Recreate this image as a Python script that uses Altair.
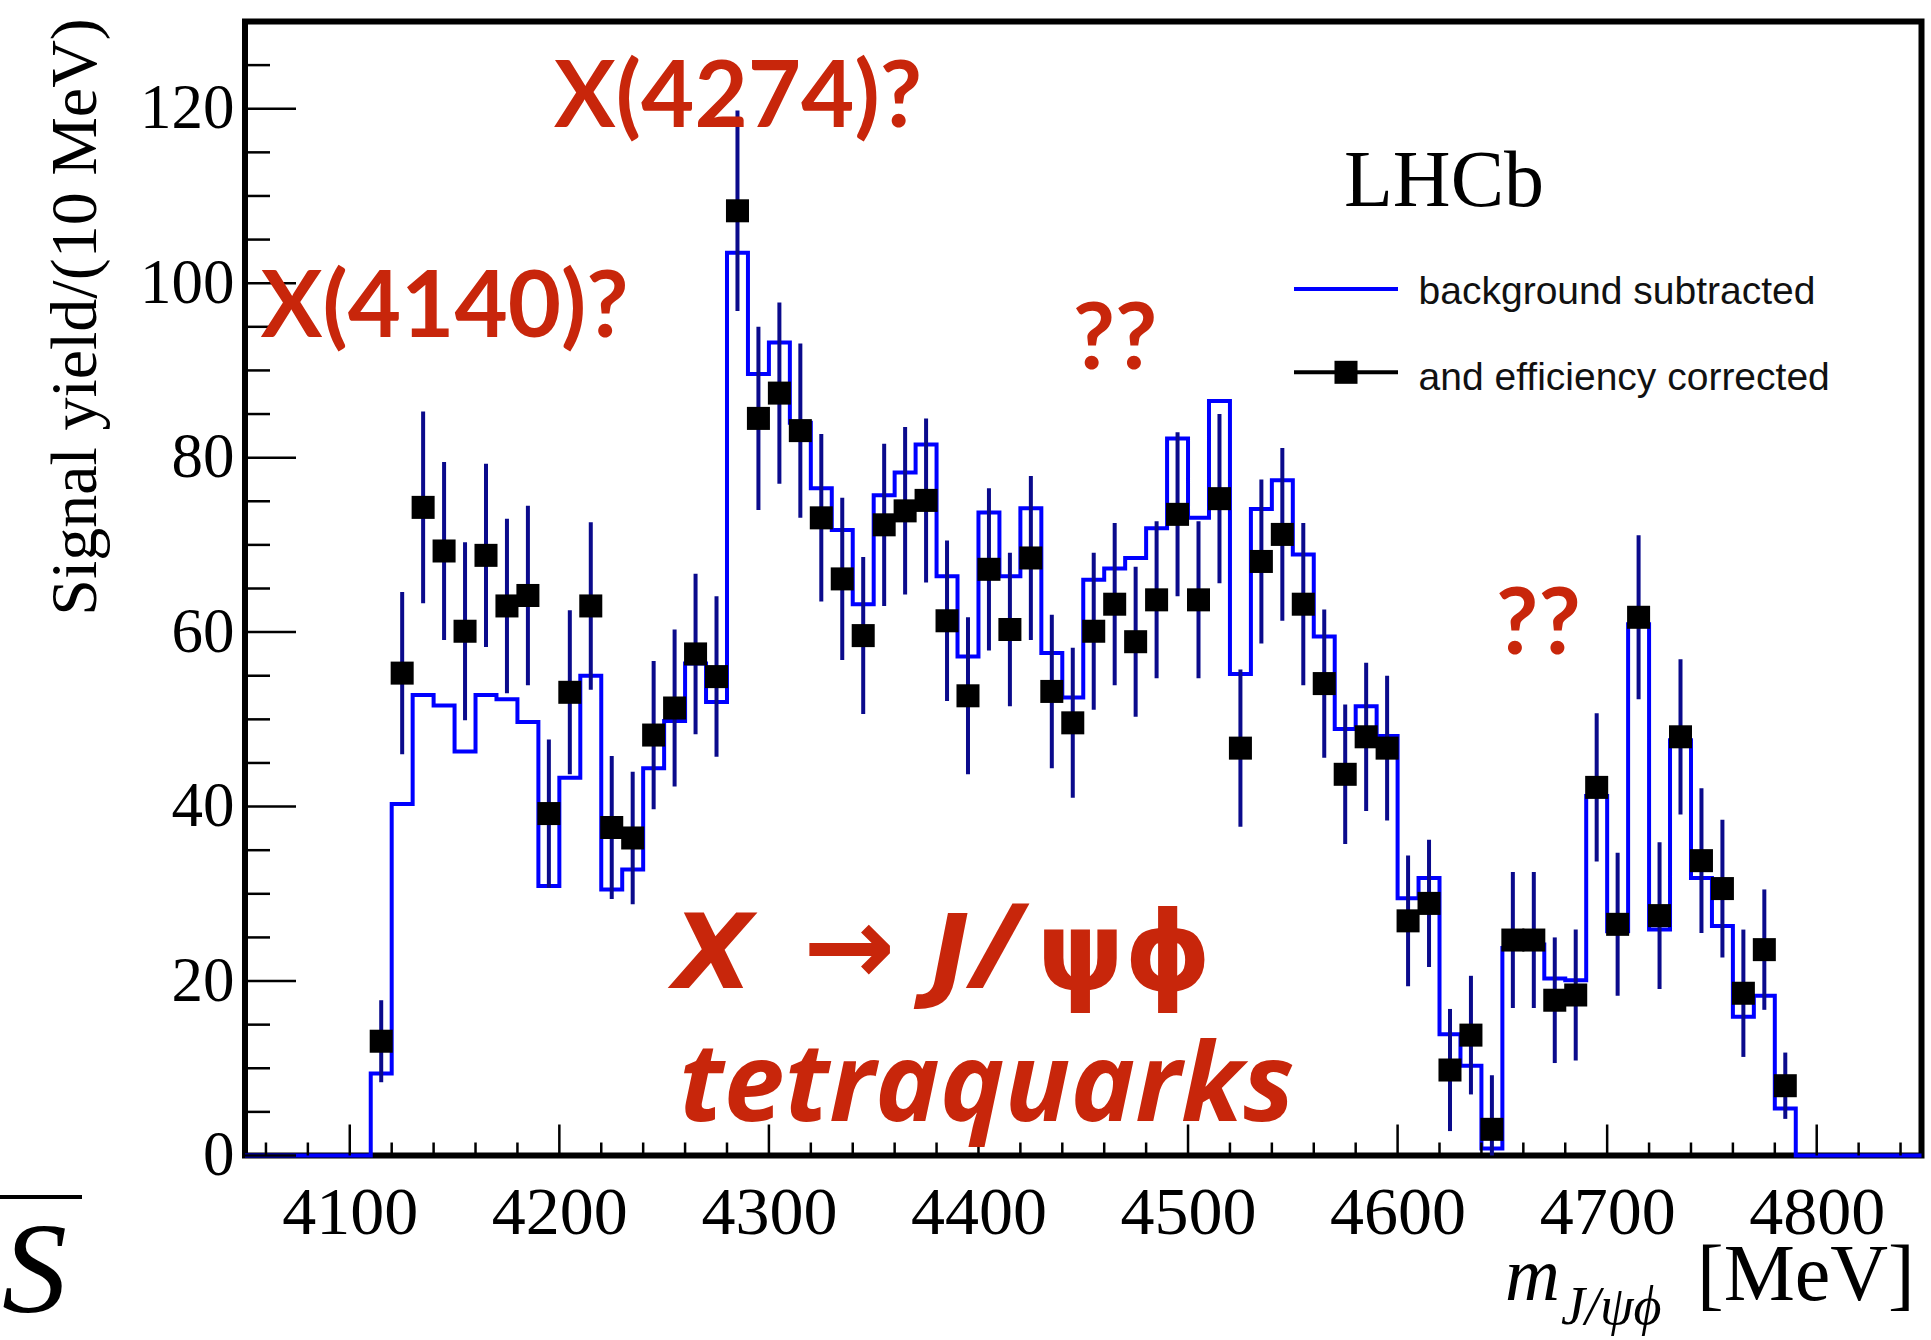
import altair as alt
import pandas as pd

# ---------------- data ----------------
# bin centres of the 10 MeV bins that hold data
mass = list(range(4115, 4786, 10))

# efficiency corrected yield (black squares)
eff_corr = [13.1, 55.3, 74.3, 69.3, 60.1, 68.8, 63.0, 64.2, 39.2, 53.1,
            63.0, 37.6, 36.4, 48.2, 51.3, 57.5, 54.9, 108.3, 84.5, 87.4,
            83.1, 73.1, 66.1, 59.6, 72.3, 73.9, 75.1, 61.3, 52.7, 67.2,
            60.3, 68.5, 53.2, 49.6, 60.1, 63.2, 58.9, 63.7, 73.5, 63.7,
            75.3, 46.7, 68.1, 71.2, 63.2, 54.1, 43.7, 48.0, 46.7, 26.9,
            28.9, 9.8, 13.8, 3.0, 24.7, 24.7, 17.8, 18.4, 42.2, 26.5,
            61.7, 27.5, 48.0, 33.8, 30.6, 18.6, 23.6, 8.0]

# symmetric error on the efficiency corrected yield
eff_err = [4.7, 9.3, 11.0, 10.2, 10.2, 10.5, 10.0, 10.3, 8.5, 9.4,
           9.6, 8.2, 7.6, 8.5, 9.0, 9.2, 9.2, 11.5, 10.5, 10.4,
           10.0, 9.6, 9.3, 9.0, 9.3, 9.6, 9.4, 9.2, 9.0, 9.3,
           8.8, 9.4, 8.8, 8.6, 9.0, 9.3, 8.6, 9.0, 9.4, 9.0,
           9.7, 9.0, 9.4, 9.9, 9.3, 8.5, 8.0, 8.5, 8.3, 7.5,
           7.3, 7.0, 6.8, 6.2, 7.8, 7.8, 7.2, 7.5, 8.5, 8.2,
           9.4, 8.4, 8.9, 8.3, 7.9, 7.3, 6.9, 3.8]

# background subtracted yield (blue histogram), same bins
bkg_sub = [9.4, 40.3, 52.8, 51.6, 46.3, 52.8, 52.3, 49.7, 30.9, 43.3,
           55.0, 30.5, 32.8, 44.4, 49.8, 56.4, 52.0, 103.5, 89.6, 93.2,
           84.0, 76.5, 71.7, 63.2, 75.7, 78.3, 81.5, 66.4, 57.2, 73.7,
           66.4, 74.2, 57.6, 52.5, 66.0, 67.3, 68.5, 71.9, 82.2, 73.1,
           86.5, 55.2, 74.1, 77.4, 68.9, 59.5, 48.9, 51.5, 48.1, 29.5,
           31.8, 13.9, 10.3, 0.8, 23.8, 24.2, 20.3, 20.1, 41.2, 25.7,
           60.9, 25.9, 47.6, 31.8, 26.3, 15.9, 18.3, 5.4]

x_range = [4050, 4850]
y_range = [0, 130]
x_major = [4100, 4200, 4300, 4400, 4500, 4600, 4700, 4800]
x_minor = [v for v in range(4060, 4850, 20) if v % 100 != 0]
y_major = [0, 20, 40, 60, 80, 100, 120]
y_minor = [v for v in range(5, 130, 5) if v % 20 != 0]

# red annotations: text, mass, yield (left / baseline anchored)
notes_text = ["X(4140)?", "X(4274)?", "??", "??"]
notes_mass = [4057.5, 4197.5, 4445.0, 4647.0]
notes_yield = [93.8, 117.9, 90.2, 57.5]

# ---------------- layout ----------------
W = 1676.5
H = 1134
RED = "#c8260b"
NAVY = "#0a0a8c"
BLUE = "#0000ff"
SERIF = "Liberation Serif"
SANS = "Liberation Sans"
RFONT = "Lato"
RFONT2 = "Open Sans"
RFONT3 = "DejaVu Sans"

xscale = alt.Scale(domain=x_range, nice=False, zero=False)
yscale = alt.Scale(domain=y_range, nice=False, zero=False)

XAX = alt.Axis(values=x_major, format="d", labelFont=SERIF, labelFontSize=68,
               labelColor="black", ticks=False, tickSize=0, domain=False,
               grid=False, labelPadding=24, title=None, labelOverlap=False,
               labelFlush=False)
YAX = alt.Axis(values=y_major, format="d", labelFont=SERIF, labelFontSize=63,
               labelColor="black", ticks=False, tickSize=0, domain=False,
               grid=False, labelPadding=11, title=None, labelOverlap=False,
               labelFlush=False)


def ex(field="mass"):
    return alt.X(f"{field}:Q", scale=xscale, axis=XAX)


def ey(field="yield"):
    return alt.Y(f"{field}:Q", scale=yscale, axis=YAX)


# ---------------- tables ----------------
pts = pd.DataFrame({"mass": mass, "yield": eff_corr, "err": eff_err})
pts["lo"] = (pts["yield"] - pts["err"]).clip(lower=0)
pts["hi"] = pts["yield"] + pts["err"]

edges = [x_range[0]] + [m - 5 for m in mass] + [mass[-1] + 5, x_range[1]]
heights = [0] + bkg_sub + [0, 0]
hist = pd.DataFrame({"mass": edges, "yield": heights})

# ---------------- layers ----------------
hist_line = alt.Chart(hist).mark_line(
    interpolate="step-after", color=BLUE, strokeWidth=4
).encode(x=ex(), y=ey())

err_bars = alt.Chart(pts).mark_rule(color=NAVY, strokeWidth=4).encode(
    x=ex(), y=ey("lo"), y2="hi:Q")

squares = alt.Chart(pts).mark_square(
    size=530, color="black", opacity=1, filled=True
).encode(x=ex(), y=ey())


def xticks(vals, length):
    return alt.Chart(pd.DataFrame({"mass": vals})).mark_rule(
        color="black", strokeWidth=2.5
    ).encode(x=ex(), y=alt.value(H), y2=alt.value(H - length))


def yticks(vals, length):
    return alt.Chart(pd.DataFrame({"yield": vals})).mark_rule(
        color="black", strokeWidth=2.5
    ).encode(y=ey(), x=alt.value(0), x2=alt.value(length))


tick_layers = [xticks(x_major, 31), xticks(x_minor, 13),
               yticks(y_major, 51), yticks(y_minor, 25)]

notes = alt.Chart(pd.DataFrame({
    "t": notes_text, "mass": notes_mass, "yield": notes_yield
})).mark_text(
    font=RFONT, fontSize=92, fontWeight="bold", color=RED,
    align="left", baseline="alphabetic"
).encode(x=ex(), y=ey(), text="t:N")


def ptext(txt, x, y, **kw):
    return alt.Chart(pd.DataFrame({"t": [txt]})).mark_text(**kw).encode(
        x=alt.value(x), y=alt.value(y), text="t:N")


RB = dict(fontWeight="bold", color=RED, align="left", baseline="alphabetic")
big_x = ptext("X", 428, 966.5, font=RFONT3, fontSize=104,
              fontStyle="italic", **RB)
big_arrow = ptext("\u2192", 558, 962, font=RFONT3, fontSize=110, **RB)
big_j = ptext("J", 686, 966.5, font=RFONT3, fontSize=104,
              fontStyle="italic", **RB)
big_sl = ptext("/", 726, 966.5, font=RFONT2, fontSize=118,
               fontStyle="italic", **RB)
big_psi = ptext("\u03c8\u03d5", 792, 968, font=RFONT3, fontSize=110, **RB)
big3 = ptext("tetraquarks", 434, 1099, font=RFONT2, fontSize=109,
             fontStyle="italic", **RB)

lhcb = ptext("LHCb", 1199, 184, font=SERIF, fontSize=80, color="black",
             align="center", baseline="alphabetic")
leg_t1 = ptext("background subtracted", 1173.6, 282.3, font=SANS,
               fontSize=39, color="#111111", align="left",
               baseline="alphabetic")
leg_t2 = ptext("and efficiency corrected", 1173.6, 368.2, font=SANS,
               fontSize=39, color="#111111", align="left",
               baseline="alphabetic")

one = pd.DataFrame({"k": [0]})
leg_blue = alt.Chart(one).mark_rule(color=BLUE, strokeWidth=4).encode(
    x=alt.value(1049), x2=alt.value(1153), y=alt.value(267.5))
leg_black = alt.Chart(one).mark_rule(color="black", strokeWidth=4).encode(
    x=alt.value(1049), x2=alt.value(1153), y=alt.value(350.8))
leg_sq = alt.Chart(one).mark_square(size=530, color="black", opacity=1,
                                     filled=True).encode(
    x=alt.value(1101), y=alt.value(350.8))

ytitle = ptext("Signal yield/(10 MeV)", -169, 295.5, font=SERIF,
               fontSize=66, color="black", angle=270, align="center",
               baseline="middle")
xt_m = ptext("m", 1260, 1278.5, font=SERIF, fontSize=76,
             fontStyle="italic", color="black", align="left",
             baseline="alphabetic")
xt_sub = ptext("J/\u03c8\u03d5", 1316, 1302, font=SERIF, fontSize=54,
               fontStyle="italic", color="black", align="left",
               baseline="alphabetic")
xt_unit = ptext("[MeV]", 1452, 1278, font=SERIF, fontSize=80,
                color="black", align="left", baseline="alphabetic")

s_bar = alt.Chart(one).mark_rule(color="black", strokeWidth=4).encode(
    x=alt.value(-245), x2=alt.value(-163), y=alt.value(1175.5))
s_txt = ptext("S", -243, 1290.5, font=SERIF, fontSize=130,
              fontStyle="italic", color="black", align="left",
              baseline="alphabetic")

chart = alt.layer(
    hist_line, err_bars, squares, *tick_layers,
    leg_blue, leg_black, leg_sq, lhcb, leg_t1, leg_t2,
    notes, big_x, big_arrow, big_j, big_sl, big_psi, big3,
    ytitle, xt_m, xt_sub, xt_unit, s_bar, s_txt,
).properties(
    width=W, height=H,
    autosize=alt.AutoSizeParams(type="none"),
    padding={"left": 245, "top": 21.5, "right": 9.5, "bottom": 184.5},
    background="white",
).configure_view(
    stroke="black", strokeWidth=6
)

chart.save("out.html", embed_options={"renderer": "svg", "actions": False})
